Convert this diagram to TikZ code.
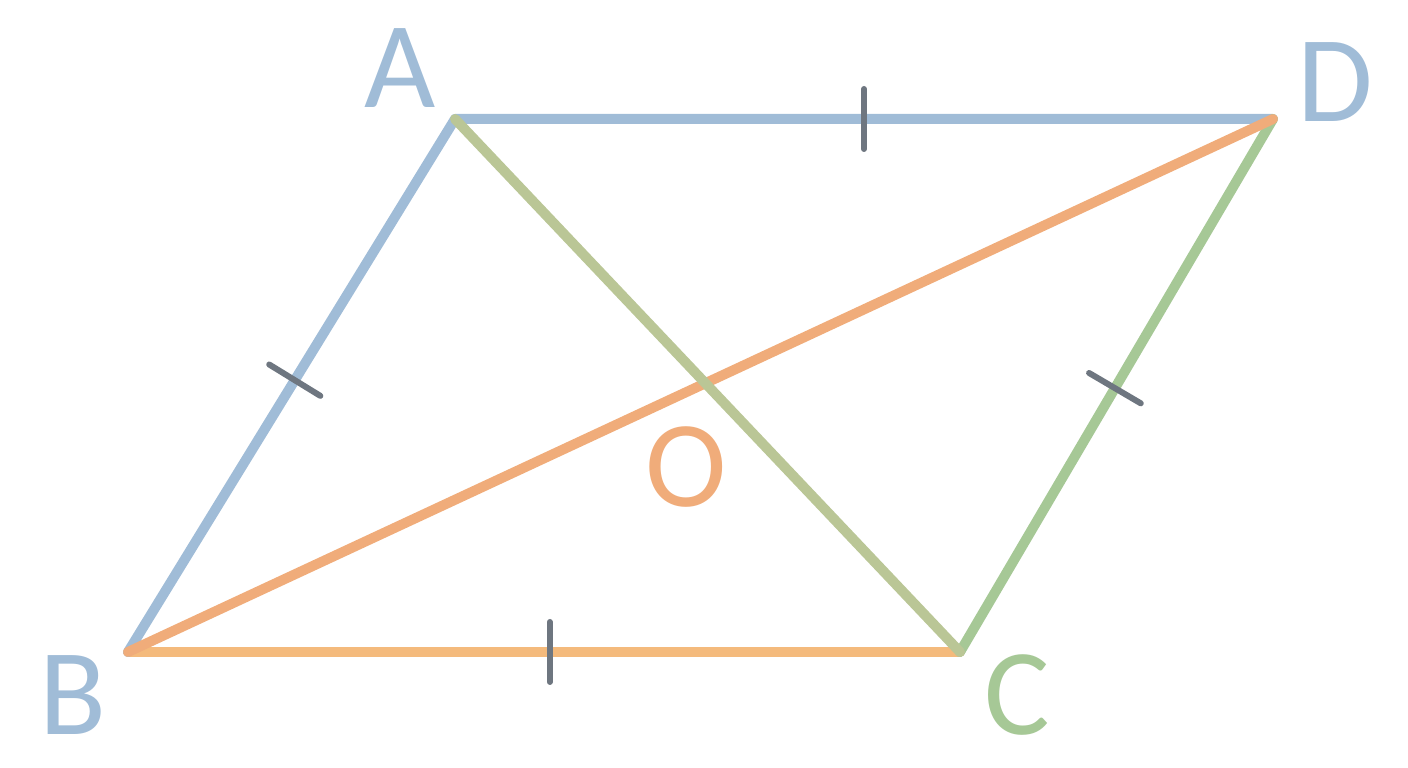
\documentclass[tikz,border=0pt]{standalone}
\usepackage{fontspec}
\setmainfont{Carlito}
\definecolor{pblue}{RGB}{160,188,215}
\definecolor{porange}{RGB}{240,172,122}
\definecolor{plight}{RGB}{244,186,124}
\definecolor{pgreen}{RGB}{166,200,150}
\definecolor{polive}{RGB}{186,198,150}
\definecolor{ptick}{RGB}{110,118,128}
\usetikzlibrary{calc}
\tikzset{
  side/.style={line width=10pt, line cap=round, line join=round},
  tickmark/.style={ptick, line width=6pt, line cap=round},
  vlabel/.style={font=\fontsize{123}{130}\selectfont, inner sep=0pt}
}
\begin{document}
\begin{tikzpicture}[x=1pt, y=1pt]
  \useasboundingbox (0,0) rectangle (1408,768);

  % Points
  \coordinate (A) at (455,649);
  \coordinate (D) at (1273,649);
  \coordinate (B) at (128,116);
  \coordinate (C) at (960,116);

  % Labels
  \node (lA) [vlabel, text=pblue] at (400,700) {A};
  \node (lD) [vlabel, text=pblue] at (1335,686) {D};
  \node (lB) [vlabel, text=pblue] at (73,73) {B};
  \node (lC) [vlabel, text=pgreen] at (1017,73) {C};
  \node (lO) [vlabel, text=porange] at (686,301) {O};

  % Sides
  \draw [side, plight] (B) -- (C);
  \draw [side, pblue] (B) -- (A) -- (D);
  \draw [side, pgreen] (C) -- (D);

  % Diagonals
  \draw [side, porange] (B) -- (D);
  \draw [side, polive] (A) -- (C);

  % Tick marks
  \foreach \p/\q/\t in {A/D/0.5, B/C/0.507, B/A/0.51, C/D/0.495} {
    \coordinate (m) at ($(\p)!\t!(\q)$);
    \draw [tickmark] ($(m)!30pt!90:(\q)$) -- ($(m)!30pt!-90:(\q)$);
  }
\end{tikzpicture}
\end{document}
